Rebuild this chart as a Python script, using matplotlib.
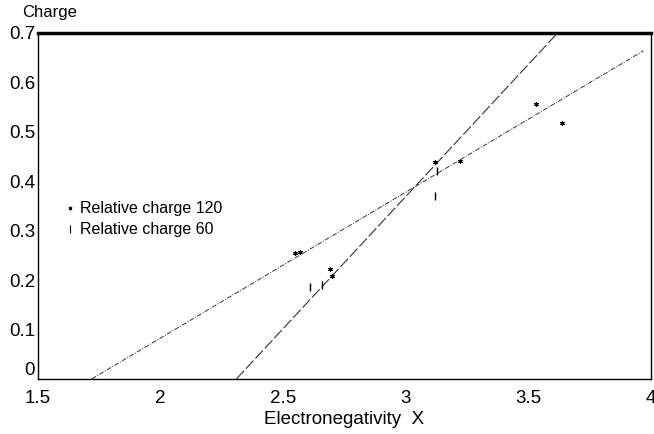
import matplotlib
matplotlib.use("Agg")
import matplotlib.pyplot as plt
import numpy as np

plt.rcParams['font.family'] = ['Liberation Sans', 'DejaVu Sans']

# Data
x120 = [2.55, 2.57, 2.69, 2.70, 3.12, 3.22, 3.53, 3.64]
y120 = [0.255, 0.257, 0.222, 0.208, 0.438, 0.440, 0.557, 0.517]
x60 = [2.61, 2.66, 3.12, 3.13]
y60 = [0.185, 0.190, 0.370, 0.420]

# Fitted lines (x range, y values)
fit1_x = [1.72, 3.97]
fit1_y = [0.0, 0.664]
fit2_x = [2.31, 3.62]
fit2_y = [0.0, 0.700]

xticks = [1.5, 2, 2.5, 3, 3.5, 4]
xtick_labels = ['1.5', '2', '2.5', '3', '3.5', '4']
yticks = [0, 0.1, 0.2, 0.3, 0.4, 0.5, 0.6, 0.7]
ytick_labels = ['0', '0.1', '0.2', '0.3', '0.4', '0.5', '0.6', '0.7']

fig = plt.figure(figsize=(6.54, 4.34), dpi=100)
ax = fig.add_axes([0.058, 0.127, 0.937, 0.797])

ax.plot(fit1_x, fit1_y, color='#333333', lw=0.7, dashes=(5, 1.5, 1, 1.5))
ax.plot(fit2_x, fit2_y, color='#333333', lw=0.8, dashes=(10, 2.5))

ax.scatter(x120, y120, marker=(6, 2, 0), s=8, color='black', lw=0.8, zorder=3)
ax.scatter(x60, y60, marker='|', s=35, color='black', lw=1.0, zorder=3)

# legend entries as text with markers
ax.scatter([1.63], [0.345], marker=(6, 2, 0), s=5, color='black', lw=0.6, clip_on=False)
ax.scatter([1.63], [0.303], marker='|', s=30, color='black', lw=0.8, clip_on=False)
ax.text(1.67, 0.345, 'Relative charge 120', fontsize=11.5, va='center', ha='left')
ax.text(1.67, 0.303, 'Relative charge 60', fontsize=11.5, va='center', ha='left')

ax.set_xlim(1.5, 4.0)
ax.set_ylim(0, 0.7)
ax.set_xticks(xticks)
ax.set_xticklabels(xtick_labels)
ax.set_yticks(yticks)
ax.set_yticklabels(ytick_labels)
ax.tick_params(axis='both', length=0, labelsize=13.5)
ax.tick_params(axis='x', pad=8)
ax.tick_params(axis='y', pad=2)
for lbl in ax.get_yticklabels()[:1]:
    lbl.set_va('bottom')

for s in ['left', 'right', 'bottom']:
    ax.spines[s].set_linewidth(1.0)
ax.spines['top'].set_linewidth(2.5)

ax.set_xlabel('Electronegativity  X', fontsize=13.5, labelpad=3)
ax.text(-0.025, 1.06, 'Charge', transform=ax.transAxes, fontsize=12, ha='left', va='center')

fig.savefig('out.png', dpi=100)
